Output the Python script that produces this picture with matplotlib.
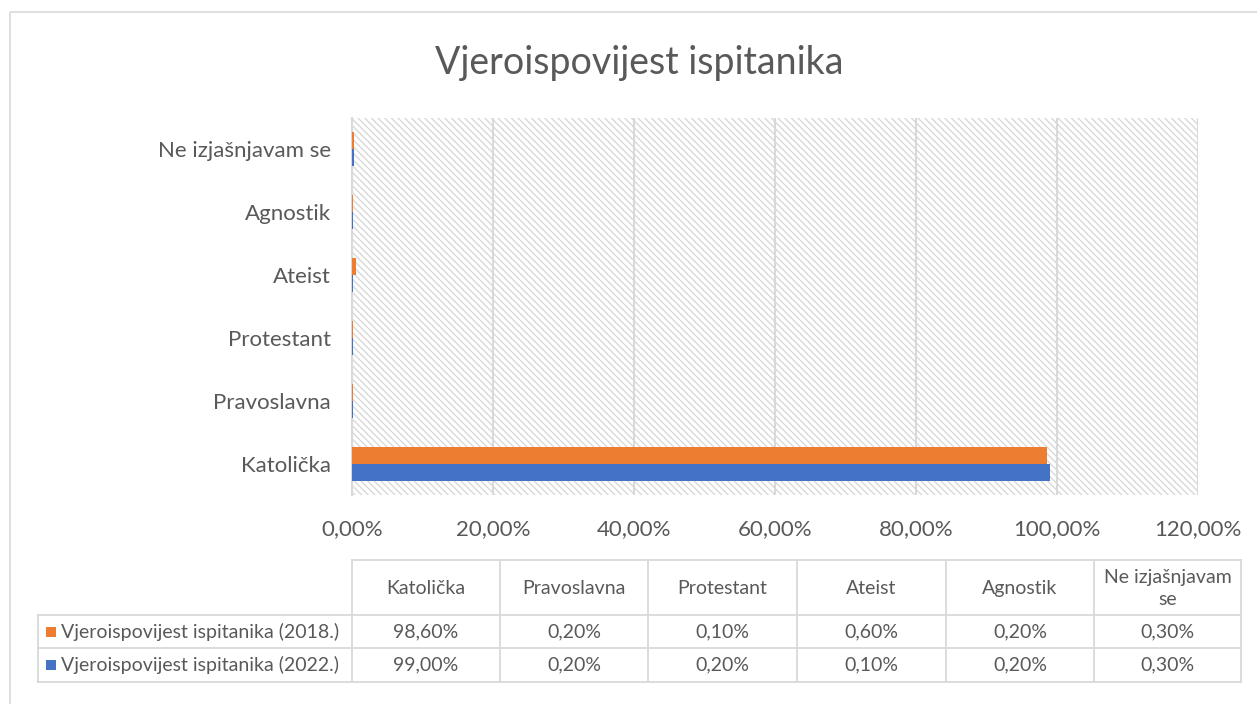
import matplotlib
matplotlib.use("Agg")
import matplotlib.pyplot as plt
from matplotlib.patches import Rectangle
from matplotlib.lines import Line2D
import numpy as np

categories = ["Katolička", "Pravoslavna", "Protestant", "Ateist", "Agnostik", "Ne izjašnjavam se"]
table_headers = ["Katolička", "Pravoslavna", "Protestant", "Ateist", "Agnostik", "Ne izjašnjavam\nse"]
series_names = ["Vjeroispovijest ispitanika (2018.)", "Vjeroispovijest ispitanika (2022.)"]
values_2018 = [98.6, 0.2, 0.1, 0.6, 0.2, 0.3]
values_2022 = [99.0, 0.2, 0.2, 0.1, 0.2, 0.3]
x_ticks = [0, 20, 40, 60, 80, 100, 120]
title = "Vjeroispovijest ispitanika"

ORANGE = "#ED7D31"
BLUE = "#4472C4"
TEXT = "#595959"
GRID = "#D9D9D9"
FONT = ["Lato", "DejaVu Sans"]
plt.rcParams['font.family'] = FONT
plt.rcParams['hatch.color'] = "#D9D9D9"
plt.rcParams['hatch.linewidth'] = 1.0

def pct(v):
    return f"{v:.2f}%".replace(".", ",")

W, H = 1257, 704
fig = plt.figure(figsize=(W / 100, H / 100), dpi=100)

ax = fig.add_axes([352 / W, 1 - 495 / H, (1198 - 352) / W, (495 - 118) / H])
ax.set_xlim(0, 120)
ax.set_ylim(-0.5, len(categories) - 0.5)
ax.add_patch(Rectangle((0, 0), 1, 1, transform=ax.transAxes, facecolor="white",
                       hatch="\\\\\\\\\\", edgecolor="#D9D9D9", linewidth=0, zorder=0))
ax.set_facecolor("white")
y = np.arange(len(categories))
bh = 0.27
ax.barh(y - bh / 2, values_2022, height=bh, color=BLUE, zorder=3)
ax.barh(y + bh / 2, values_2018, height=bh, color=ORANGE, zorder=3)
ax.set_xticks(x_ticks)
ax.set_xticklabels([pct(v) for v in x_ticks])
ax.set_yticks(y)
ax.set_yticklabels(categories)
ax.tick_params(axis="both", length=0, colors=TEXT, labelsize=16)
ax.tick_params(axis="x", pad=17)
ax.tick_params(axis="y", pad=15)
ax.xaxis.grid(True, color=GRID, linewidth=1.5, zorder=1)
ax.set_axisbelow(True)
for s in ["top", "right", "bottom"]:
    ax.spines[s].set_visible(False)
ax.spines["left"].set_color(GRID)
ax.spines["left"].set_linewidth(1.5)

fig.text(639 / W, 1 - 63 / H, title, ha="center", va="center", fontsize=27, color=TEXT)

# overlay for table and border
ov = fig.add_axes([0, 0, 1, 1], facecolor="none")
ov.set_xlim(0, W)
ov.set_ylim(H, 0)
ov.axis("off")
ov.add_patch(Rectangle((10, 12), W + 10, H + 10, fill=False, edgecolor=GRID, linewidth=1.2))

col_x = [352, 500, 648, 797, 946, 1094, 1241]
row_y = [560, 615, 648, 682]
lc = "#D9D9D9"
lw = 1.3
ov.add_line(Line2D([352, 1241], [row_y[0]] * 2, color=lc, lw=lw))
for ry in row_y[1:]:
    ov.add_line(Line2D([38, 1241], [ry, ry], color=lc, lw=lw))
for cx in col_x:
    ov.add_line(Line2D([cx, cx], [row_y[0], row_y[-1]], color=lc, lw=lw))
ov.add_line(Line2D([38, 38], [row_y[1], row_y[-1]], color=lc, lw=lw))

tfs = 14
for i, hname in enumerate(table_headers):
    cx = (col_x[i] + col_x[i + 1]) / 2
    ov.text(cx, (row_y[0] + row_y[1]) / 2 + 1, hname, ha="center", va="center",
            fontsize=tfs, color=TEXT, linespacing=1.4)

rows = [(series_names[0], values_2018, ORANGE), (series_names[1], values_2022, BLUE)]
for r, (name, vals, col) in enumerate(rows):
    cy = (row_y[r + 1] + row_y[r + 2]) / 2
    ov.add_patch(Rectangle((46, cy - 5), 10, 10, facecolor=col, edgecolor="none"))
    ov.text(61, cy, name, ha="left", va="center", fontsize=tfs, color=TEXT)
    for i, v in enumerate(vals):
        cx = (col_x[i] + col_x[i + 1]) / 2
        ov.text(cx, cy, pct(v), ha="center", va="center", fontsize=tfs, color=TEXT)

fig.savefig("out.png", dpi=100)
